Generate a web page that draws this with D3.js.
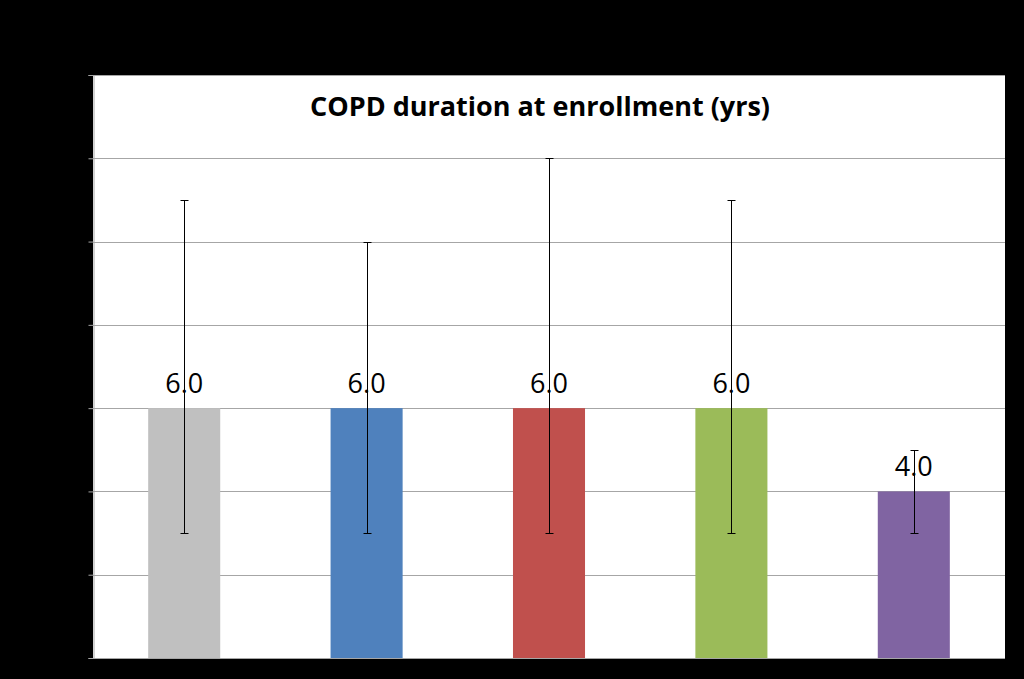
<!DOCTYPE html>
<html>
<head>
<meta charset="utf-8">
<script src="https://cdn.jsdelivr.net/npm/d3@7"></script>
<style>
  html, body { margin: 0; padding: 0; background: #000; }
  svg { display: block; }
</style>
</head>
<body>
<svg id="chart" width="1024" height="679"></svg>
<script>
const categories = ["Group 1", "Group 2", "Group 3", "Group 4", "Group 5"];
const values = [6.0, 6.0, 6.0, 6.0, 4.0];
const errLow = [3, 3, 3, 3, 3];
const errHigh = [11, 10, 12, 11, 5];
const colors = ["#C0C0C0", "#4F81BD", "#C0504D", "#9BBB59", "#8064A2"];
const yTicks = [0, 2, 4, 6, 8, 10, 12, 14];
const title = "COPD duration at enrollment (yrs)";

const svg = d3.select("#chart");
const W = 1024, H = 679;
const m = { left: 93, right: 19, top: 75, bottom: 21 };

svg.append("rect").attr("width", W).attr("height", H).attr("fill", "#000");

const x = d3.scaleBand().domain(categories).range([m.left, W - m.right]).paddingInner(0.605).paddingOuter(0.3025);
const y = d3.scaleLinear().domain([0, 14]).range([H - m.bottom, m.top]);

// plot area
svg.append("rect")
  .attr("x", m.left).attr("y", m.top)
  .attr("width", W - m.right - m.left).attr("height", H - m.bottom - m.top)
  .attr("fill", "#fff");

// gridlines
svg.append("g").selectAll("line").data(yTicks).join("line")
  .attr("x1", m.left).attr("x2", W - m.right)
  .attr("y1", d => Math.round(y(d)) + 0.5).attr("y2", d => Math.round(y(d)) + 0.5)
  .attr("stroke", "#a6a6a6").attr("stroke-width", 1);

// y axis with tick marks (labels black on black)
const yAxis = d3.axisLeft(y).tickValues(yTicks).tickSize(5).tickFormat(d3.format("d"));
const ga = svg.append("g").attr("transform", `translate(${m.left + 0.5},0)`).call(yAxis);
ga.select(".domain").attr("stroke", "#a6a6a6");
ga.selectAll(".tick line").attr("stroke", "#a6a6a6");
ga.selectAll(".tick text").attr("fill", "#000").attr("font-family", "Open Sans, sans-serif").attr("font-size", 18);

// bars
svg.append("g").selectAll("rect").data(categories).join("rect")
  .attr("x", d => x(d))
  .attr("y", (d, i) => y(values[i]))
  .attr("width", x.bandwidth())
  .attr("height", (d, i) => y(0) - y(values[i]))
  .attr("fill", (d, i) => colors[i]);

// error bars
const eg = svg.append("g").attr("stroke", "#000").attr("stroke-width", 1);
categories.forEach((c, i) => {
  const cx = Math.round(x(c) + x.bandwidth() / 2) + 0.5;
  const yl = Math.round(y(errLow[i])) + 0.5, yh = Math.round(y(errHigh[i])) + 0.5;
  eg.append("line").attr("x1", cx).attr("x2", cx).attr("y1", yl).attr("y2", yh);
  eg.append("line").attr("x1", cx - 4).attr("x2", cx + 4).attr("y1", yl).attr("y2", yl);
  eg.append("line").attr("x1", cx - 4).attr("x2", cx + 4).attr("y1", yh).attr("y2", yh);
});

// value labels
svg.append("g").selectAll("text").data(categories).join("text")
  .attr("x", d => x(d) + x.bandwidth() / 2)
  .attr("y", (d, i) => y(values[i]) - 15)
  .attr("text-anchor", "middle")
  .attr("font-family", "Open Sans, sans-serif")
  .attr("font-size", 27)
  .attr("fill", "#000")
  .text((d, i) => d3.format(".1f")(values[i]));

// title
svg.append("text")
  .attr("x", 540).attr("y", 116)
  .attr("text-anchor", "middle")
  .attr("font-family", "Open Sans, sans-serif")
  .attr("font-weight", "bold")
  .attr("font-size", 27)
  .attr("fill", "#000")
  .text(title);
</script>
</body>
</html>
